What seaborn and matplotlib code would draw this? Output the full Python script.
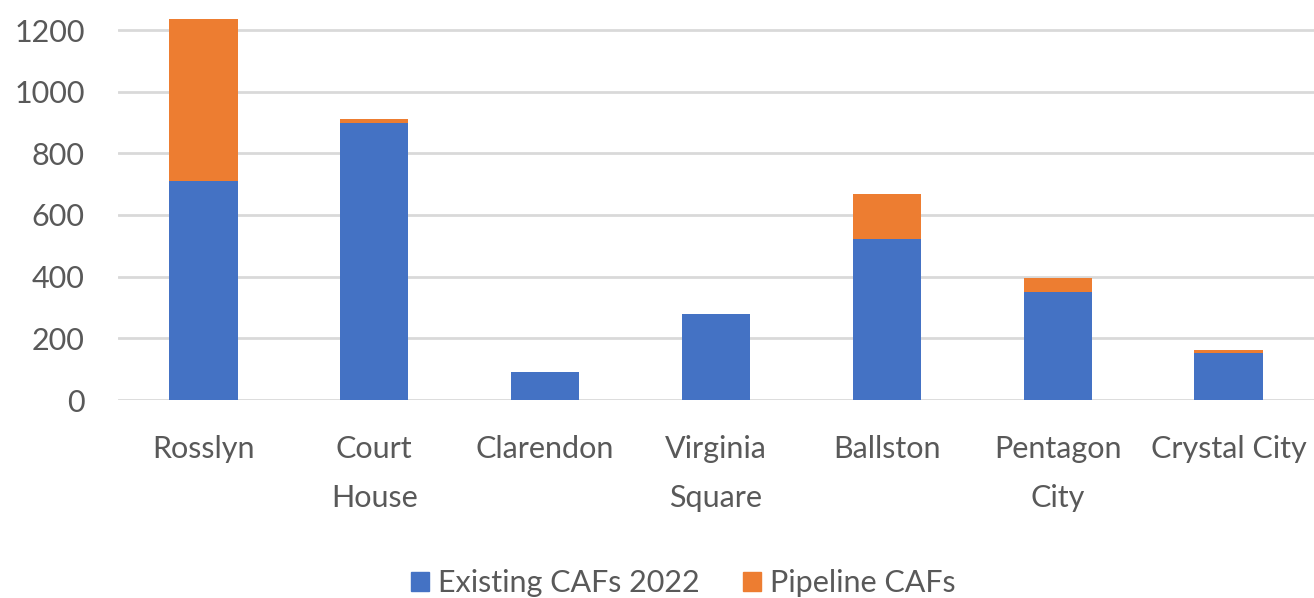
import numpy as np
import pandas as pd
import seaborn as sns
import matplotlib
matplotlib.use("Agg")
import matplotlib.pyplot as plt
from matplotlib.patches import Patch

# data
areas = ["Rosslyn", "Court\nHouse", "Clarendon", "Virginia\nSquare",
         "Ballston", "Pentagon\nCity", "Crystal City"]
existing = [710, 898, 90, 278, 523, 351, 153]
pipeline = [525, 12, 0, 0, 144, 44, 9]
yticks = [0, 200, 400, 600, 800, 1000, 1200]

blue = "#4472C4"
orange = "#ED7D31"

df = pd.DataFrame({"area": areas, "existing": existing, "pipeline": pipeline})
df["total"] = df["existing"] + df["pipeline"]

sns.set_theme(style="white")
plt.rcParams["font.family"] = ["Lato", "DejaVu Sans"]

fig = plt.figure(figsize=(13.14, 5.98), dpi=100)
ax = fig.add_axes([118 / 1314, 1 - 400 / 598, 1 - 118 / 1314, 388.5 / 598])

# stacked: total (orange) underneath, existing (blue) drawn over it
sns.barplot(data=df, x="area", y="total", color=orange, width=0.4,
            saturation=1, ax=ax, zorder=2, linewidth=0)
sns.barplot(data=df, x="area", y="existing", color=blue, width=0.4,
            saturation=1, ax=ax, zorder=3, linewidth=0)

ax.set_ylim(0, 1260)
ax.set_xlim(-0.5, len(areas) - 0.5)
ax.set_yticks(yticks)
ax.yaxis.grid(True, color="#D9D9D9", linewidth=2)
ax.set_axisbelow(True)
for s in ax.spines.values():
    s.set_visible(False)
ax.set_xlabel("")
ax.set_ylabel("")
ax.tick_params(axis="y", length=0, pad=24, labelsize=22, labelcolor="#595959")
ax.tick_params(axis="x", length=0, pad=25, labelsize=22, labelcolor="#595959")
ax.set_xticks(range(len(areas)), areas, linespacing=1.92, va="top")

handles = [Patch(color=blue, label="Existing CAFs 2022"),
           Patch(color=orange, label="Pipeline CAFs")]
fig.legend(handles=handles, loc="lower center", bbox_to_anchor=(0.52, -0.045),
           ncol=2, frameon=False, fontsize=22, handlelength=0.6,
           handleheight=0.6, handletextpad=0.3, columnspacing=1.4,
           labelcolor="#595959")

fig.savefig("out.png", dpi=100)
